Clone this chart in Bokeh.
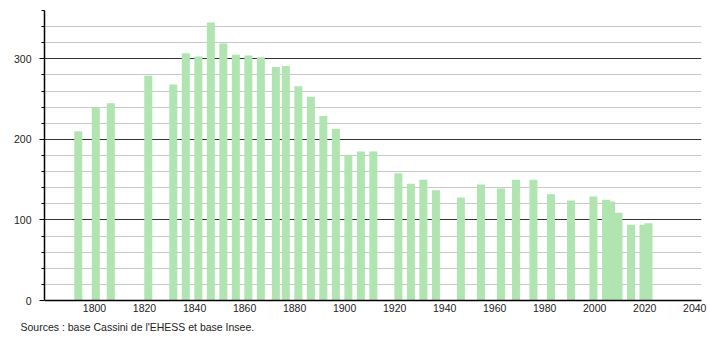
from bokeh.plotting import figure
from bokeh.models import ColumnDataSource, FixedTicker, Title, Range1d
from bokeh.embed import file_html
from bokeh.resources import INLINE

years = [1793, 1800, 1806, 1821, 1831, 1836, 1841, 1846, 1851, 1856, 1861, 1866,
         1872, 1876, 1881, 1886, 1891, 1896, 1901, 1906, 1911, 1921, 1926, 1931,
         1936, 1946, 1954, 1962, 1968, 1975, 1982, 1990, 1999, 2004, 2006, 2009,
         2014, 2019, 2021]
population = [210, 240, 245, 279, 268, 307, 303, 345, 319, 305, 304, 302,
              290, 291, 266, 253, 229, 213, 181, 185, 185, 158, 145, 150,
              137, 128, 144, 139, 150, 150, 132, 124, 129, 125, 123, 109,
              94, 94, 96]
x_ticks = [1800, 1820, 1840, 1860, 1880, 1900, 1920, 1940, 1960, 1980, 2000, 2020, 2040]
y_ticks = [0, 100, 200, 300]
y_minor = [20, 40, 60, 80, 120, 140, 160, 180, 220, 240, 260, 280, 320, 340, 360]
source_text = "Sources : base Cassini de l'EHESS et base Insee."

FONT = "Liberation Sans"
src = ColumnDataSource(dict(x=[y + 0.5 for y in years], top=population))

p = figure(width=710, height=340, output_backend="svg", toolbar_location=None,
           x_range=Range1d(1780, 2042.7), y_range=Range1d(0, 360),
           min_border_left=44, min_border_right=9, min_border_top=10,
           min_border_bottom=40)
p.outline_line_color = None
p.background_fill_color = "white"
p.border_fill_color = "white"

p.vbar(x="x", top="top", width=3.2, bottom=0, source=src,
       fill_color="#b0e4b0", line_color=None)

# x axis
xa = p.xaxis[0]
xa.ticker = FixedTicker(ticks=x_ticks)
xa.major_tick_out = 0
xa.major_tick_in = 0
xa.minor_tick_out = 0
xa.minor_tick_in = 0
xa.axis_line_color = "black"
xa.axis_line_width = 1.5
xa.major_label_standoff = 3
xa.major_label_text_font = FONT
xa.major_label_text_font_size = "10.5px"
xa.major_label_text_color = "#222222"
p.xgrid.visible = False

# y axis
ya = p.yaxis[0]
ya.ticker = FixedTicker(ticks=y_ticks, minor_ticks=y_minor)
ya.major_tick_out = 5
ya.major_tick_in = 0
ya.minor_tick_out = 3
ya.minor_tick_in = 0
ya.major_tick_line_color = "black"
ya.minor_tick_line_color = "black"
ya.axis_line_color = "black"
ya.axis_line_width = 1.5
ya.major_label_standoff = 8
ya.major_label_text_font = FONT
ya.major_label_text_font_size = "10.5px"
ya.major_label_text_color = "#222222"

g = p.ygrid[0]
g.grid_line_color = "#333333"
g.grid_line_width = 1
g.minor_grid_line_color = "#c8c8c8"
g.minor_grid_line_width = 1

p.add_layout(Title(text=source_text, align="left", offset=-24,
                   text_font=FONT, text_font_size="10.5px",
                   text_font_style="normal", text_color="#222222",
                   standoff=8), "below")

open("out.html", "w").write(file_html(p, INLINE))
